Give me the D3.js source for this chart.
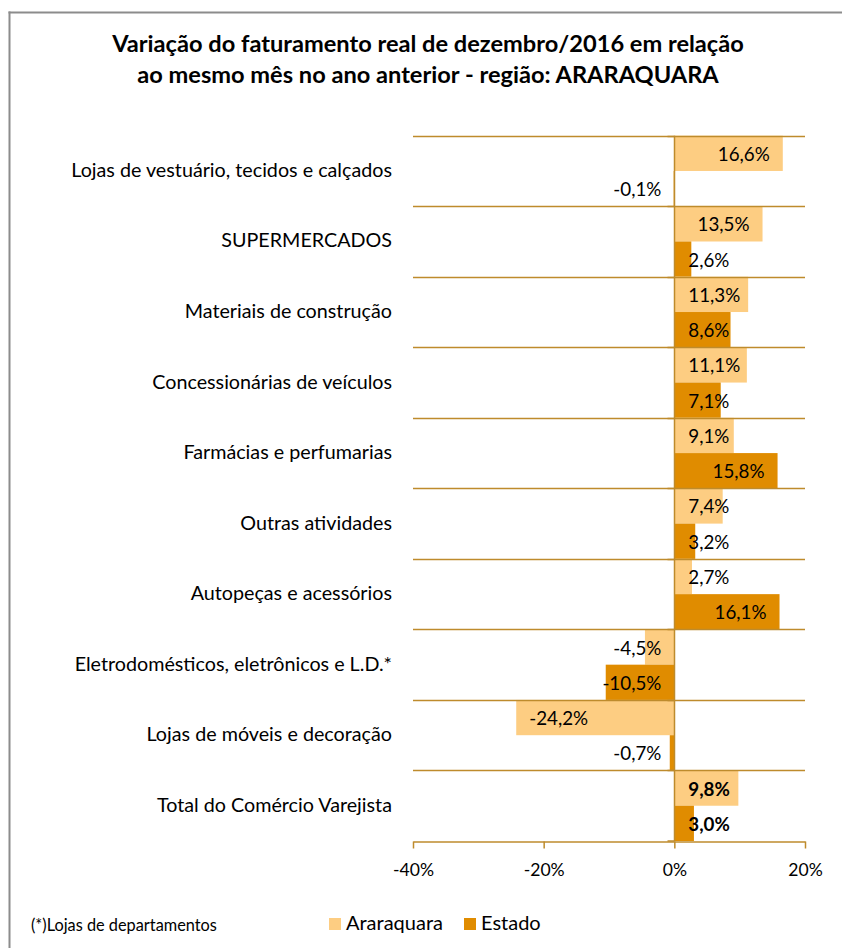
<!DOCTYPE html>
<html><head><meta charset="utf-8">
<script src="https://cdn.jsdelivr.net/npm/d3@7"></script>
<style>body{margin:0;background:#fff;overflow:hidden}svg{display:block}</style>
</head><body>
<script>
const categories = [
  "Lojas de vestuário, tecidos e calçados",
  "SUPERMERCADOS",
  "Materiais de construção",
  "Concessionárias de veículos",
  "Farmácias e perfumarias",
  "Outras atividades",
  "Autopeças e acessórios",
  "Eletrodomésticos, eletrônicos e L.D.*",
  "Lojas de móveis e decoração",
  "Total do Comércio Varejista"
];
const araraquara = [16.6, 13.5, 11.3, 11.1, 9.1, 7.4, 2.7, -4.5, -24.2, 9.8];
const estado = [-0.1, 2.6, 8.6, 7.1, 15.8, 3.2, 16.1, -10.5, -0.7, 3.0];
const seriesNames = ["Araraquara", "Estado"];
const xTicks = [-40, -20, 0, 20];
const titleLines = [
  "Variação do faturamento real de dezembro/2016 em relação",
  "ao mesmo mês no ano anterior - região: ARARAQUARA"
];
const footnote = "(*)Lojas de departamentos";

const W = 842, H = 948;
const FONT = "Lato, 'Open Sans', sans-serif";
const colors = {Araraquara: "#FDCD82", Estado: "#E08C00"};
const axisColor = "#BE8B2C";

const svg = d3.select("body").append("svg").attr("width", W).attr("height", H)
  .style("font-family", FONT);

// frame: top and left edges only
svg.append("line").attr("x1", 8.5).attr("x2", W).attr("y1", 12.5).attr("y2", 12.5)
  .attr("stroke", "#8c8c8c").attr("stroke-width", 2);
svg.append("line").attr("x1", 9.5).attr("x2", 9.5).attr("y1", 11.5).attr("y2", H)
  .attr("stroke", "#8c8c8c").attr("stroke-width", 2);

// font fitting helper
function fitSize(str, target, weight) {
  const t = svg.append("text").attr("font-size", 20).attr("font-weight", weight || "normal").text(str);
  const w = t.node().getComputedTextLength();
  t.remove();
  return 20 * target / w;
}
const fsTitle = fitSize(titleLines[0], 632, "bold");
const fsCat = fitSize(categories[0], 321);
const fsVal = fitSize("16,6%", 52);
const fsTick = fitSize("-40%", 41);
const fsLeg = fitSize("Araraquara", 97);
const fsFoot = fitSize(footnote, 186);

// title
svg.append("g").selectAll("text").data(titleLines).join("text")
  .attr("x", 428).attr("y", (d, i) => 52 + i * 31)
  .attr("text-anchor", "middle").attr("font-weight", "bold")
  .attr("font-size", fsTitle).attr("fill", "#000").text(d => d);

const x = d3.scaleLinear().domain([-40, 20]).range([413, 805]);
const y = d3.scaleBand().domain(categories).range([135.7, 841]).padding(0);
const sub = d3.scaleBand().domain(seriesNames).range([0, y.bandwidth()]).padding(0);

const data = categories.map((c, i) => ({cat: c, i, vals: [
  {s: "Araraquara", v: araraquara[i]}, {s: "Estado", v: estado[i]}]}));

// bars
const groups = svg.append("g").selectAll("g").data(data).join("g")
  .attr("transform", d => `translate(0,${y(d.cat)})`);
groups.selectAll("rect").data(d => d.vals).join("rect")
  .attr("x", d => Math.min(x(0), x(d.v)))
  .attr("width", d => Math.abs(x(d.v) - x(0)))
  .attr("y", d => sub(d.s)).attr("height", sub.bandwidth())
  .attr("fill", d => colors[d.s]);

// gridlines at category boundaries
svg.append("g").selectAll("line").data(categories).join("line")
  .attr("x1", x.range()[0]).attr("x2", x.range()[1])
  .attr("y1", d => Math.round(y(d)) + 0.5).attr("y2", d => Math.round(y(d)) + 0.5)
  .attr("stroke", axisColor).attr("stroke-width", 1.5);

// vertical zero axis with small ticks
const zx = Math.round(x(0)) + 0.5;
svg.append("line").attr("x1", zx).attr("x2", zx).attr("y1", y.range()[0]).attr("y2", y.range()[1])
  .attr("stroke", axisColor).attr("stroke-width", 1.5);
svg.append("g").selectAll("line").data(categories.concat(["__end"])).join("line")
  .attr("x1", zx - 7).attr("x2", zx)
  .attr("y1", d => (d === "__end" ? y.range()[1] : Math.round(y(d)) + 0.5))
  .attr("y2", d => (d === "__end" ? y.range()[1] : Math.round(y(d)) + 0.5))
  .attr("stroke", axisColor).attr("stroke-width", 1.5);

// bottom axis
const axisG = svg.append("g").attr("transform", `translate(0,${Math.round(y.range()[1]) + 0.5})`)
  .call(d3.axisBottom(x).tickValues(xTicks).tickFormat(d => d + "%").tickSize(7).tickSizeOuter(0).tickPadding(15));
axisG.select(".domain").attr("stroke", axisColor).attr("stroke-width", 1.5);
axisG.selectAll(".tick line").attr("stroke", axisColor).attr("stroke-width", 1.5);
axisG.selectAll(".tick text").attr("font-size", fsTick).attr("font-family", FONT).attr("fill", "#000");

// category labels
svg.append("g").selectAll("text").data(categories).join("text")
  .attr("x", 392).attr("y", d => y(d) + y.bandwidth() / 2 + 6)
  .attr("text-anchor", "end").attr("font-size", fsCat).attr("fill", "#000").text(d => d);

// value labels
const fmt = v => v.toFixed(1).replace(".", ",") + "%";
const pad = 13;
groups.each(function(d) {
  const g = d3.select(this);
  const bold = d.i === categories.length - 1;
  d.vals.forEach(o => {
    const t = g.append("text").attr("font-size", fsVal).attr("fill", "#000")
      .attr("font-weight", bold ? "bold" : "normal")
      .attr("y", sub(o.s) + sub.bandwidth() / 2 + 7.5).text(fmt(o.v));
    const w = t.node().getComputedTextLength();
    const len = Math.abs(x(o.v) - x(0));
    if (o.v >= 0) {
      if (w + 2 * pad <= len) t.attr("x", x(o.v) - pad).attr("text-anchor", "end");
      else t.attr("x", x(0) + pad + 1).attr("text-anchor", "start");
    } else {
      if (w + 2 * pad <= len) t.attr("x", x(o.v) + pad).attr("text-anchor", "start");
      else t.attr("x", x(0) - pad).attr("text-anchor", "end");
    }
  });
});

// footnote
svg.append("text").attr("x", 31).attr("y", 931).attr("font-size", fsFoot).attr("fill", "#000").text(footnote);

// legend
const legX = [329, 464];
const leg = svg.append("g").selectAll("g").data(seriesNames).join("g")
  .attr("transform", (d, i) => `translate(${legX[i]},918)`);
leg.append("rect").attr("width", 12).attr("height", 12).attr("fill", d => colors[d]);
leg.append("text").attr("x", 17).attr("y", 12).attr("font-size", fsLeg).attr("fill", "#000").text(d => d);
</script>
</body></html>
